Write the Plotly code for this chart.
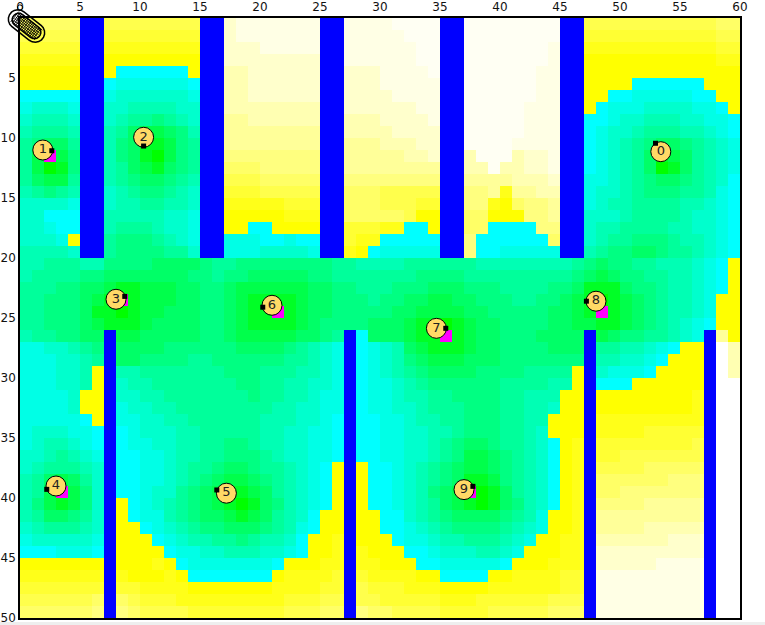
"""Wi-Fi coverage style grid: signal levels per cell, walls, numbered access points."""
import numpy as np
import plotly.graph_objects as go

N_COLS, N_ROWS = 60, 50

# one char per cell: 0..9 = green -> cyan, a..l = yellow -> white
LEVELS = "0123456789abcdefghijkl"
GRID_ROWS = [
    "eeeee ee dddddddd gg ijjjjjjj jj jjjjkkkk kk kkkkkkkk gg dddddddddddee",
    "ddddd dd cccccccc gg ijjjjjjj jj jjjjjkkk kk kkkkkkkk gg cccccccccccdd",
    "ccccc cc bbbbbbbb ff iiijjjjj jj jjjjjjkk kk kkkkkkkj gg bbbbbbbbbbbcc",
    "bbbbb bb aaaaaaaa ff iiiiiiii jj jjjjjjkk kk kkkkkkkj gg aaaaaaaaaaabb",
    "aaaaa aa a999999a ee hhiiiiii ii iiijjjjk kk kkkkkkjj gg aaaaaaaaaaaaa",
    "aaaaa aa 98888889 ee hhiiiiii ii iiijjjjj kk kkkkkkjj gg aaaa999999aaa",
    "99999 99 87777778 ee hhiiiiii ii iiiijjjj kk kkkkkkjj gg aa998888899aa",
    "87778 77 77666677 dd hhhhhhhh ii iiiiiijj jj kkkkkjjj gg a98887777889a",
    "76667 66 76554567 dd gghhhhhh hh hhhiiiij jj kkkkkjjj gg 9987766677889",
    "65556 55 65322346 cc gggggggg hh hhhhiiii jj kkkkkjjj gg 9877655566789",
    "54335 44 64311245 cc gggggggg gg ggghhhii jj kkkkjjjj gg 9876543345678",
    "52124 33 64310245 cc ffffffff gg ggggghhi hh hkkkhiij gg 9876531235678",
    "52014 33 65321345 cc eeefffff gg gggggggg hh hhkhhiij gg 9876530135678",
    "53225 44 65433456 cc dddeeeee ff ffffffff gg gggghhhi gg 8876543345679",
    "65456 55 76544567 cc cccddddd ee eeeddddd ff ffgbgghh gg 8776544455689",
    "77778 77 76655667 cc bbbbbccc dd eeedddcc ee ffbaeffg gg 8766555566789",
    "77999 77 66666778 bb aaaaabbb cc eeeeedaa bb eeaaaffg ff 7776555567789",
    "77899 77 65556778 bb aa99aaaa bb cccbb99a bb ee9999ff ff 7665555667789",
    "7778a 66 54445678 bb 88899899 aa cbb99999 bb f999999e ee 7655444566789",
    "66667 55 54444557 88 88877778 88 ba988888 88 f9988888 88 6544334556789",
    "6655566444 4333345544 4444445566 6655555566 6666665434 455666789a",
    "6555544333 3333445443 3333445555 5554444555 5555554323 445566789a",
    "5554433211 2223344322 2222334455 5444333444 5555443111 344566789a",
    "5544432101 2223344321 1112334445 4433223344 4554432101 23456678aa",
    "5544431101 2233344321 1012334444 4332222334 4444332101 23456678aa",
    "5544432111 2333344321 1112344443 3321101233 4444332211 23456789aa",
    "6554433222 3333344322 2223345593 3321101233 4443333323 44556789ga",
    "8877654433 3344444433 3345678398 7632111233 4444333455 66789aa9lh",
    "8887765433 4444554444 4455678498 7643222333 4444444466 7789aaa9lh",
    "888776a566 5555555444 5556678598 7654333344 445555a578 889aaaa9lh",
    "888776a576 6555555544 5566778598 8765444444 555566a599 9aaaaaa9ll",
    "88887aa577 6655555554 5566788598 8766554444 55666aa5aa aaaaaab9ll",
    "88887aa587 7665555555 5667788598 8776555444 55667aa5aa aaaaaab9ll",
    "888889a588 7766555555 6667789599 8876655444 5566aaa5bb bbbbbbb9ll",
    "8777889598 7776655555 6677889599 8877665444 5567aaa5bb bbccccc9ll",
    "8766789598 8776655445 6677889599 8877654334 55679ab5cc ccccccd9ll",
    "7765678599 8876655444 5677889599 8877654223 45679ab5cc ddddddd9ll",
    "7655567599 8876554334 556789a5a9 9876543223 45679ab5dd ddeeeee9ll",
    "6532357599 8876543223 456789a5a9 9876543112 45679ab5ee eeeefff9ll",
    "6521247599 8775432112 356789a5a9 9876432001 35679ab5ee fffffff9ll",
    "64212475a9 8765432101 346789a5a9 9876532101 34679ab5ff ffggggg9ll",
    "65334575a9 8865433212 35679aa5aa 9976543333 4568aab5gg ggggggg9ll",
    "76555675aa 9876544333 45689aa5aa 9987654444 5678aab5gg gghhhhh9ll",
    "87777785aa a987665545 6679aab5aa a988766555 678aabb5hh hhhhiii9ll",
    "99988895aa aa98877666 7789aab5ba aa99877766 78aaabb5ii iiiiiii9ll",
    "aaaaaaa5aa aba9888888 89aaabb5bb aaa9988888 9aaabbb5ii iiijjjj9ll",
    "bbbbbbb5ba aaba999999 9abbbbc5cb bbbaa9999a abbbbcc5jj jjjjjjj9ll",
    "ccccccc5cc bbbbaaaaaa abbbbcc5dc ccbbbaaaab bbbbbcc5jj jjjjjjj9ll",
    "dddddde5ed cccbbbbbbb bbcccdd5dd cccccbbbcc ccccddd5jj jjjjjjj9ll",
    "eeeeeef5fe ddddcccccc ccdddee5fe eddddccccd ddddeee5jj jjjjjjj9ll",
]

# walls: first column of each, rows spanned
TOP_WALL_COLS = [5, 15, 25, 35, 45]
TOP_WALL_WIDTH = 2
TOP_WALL_START, TOP_WALL_END = -1, 20
BOTTOM_WALL_COLS = [7, 27, 47, 57]
BOTTOM_WALL_WIDTH = 1
BOTTOM_WALL_START, BOTTOM_WALL_END = 26, 50.33

# access points
AP_LABELS = ["0", "1", "2", "3", "4", "5", "6", "7", "8", "9"]
AP_X = [53.4, 1.9, 10.3, 8.0, 3.0, 17.2, 21.0, 34.7, 48.0, 37.0]
AP_Y = [11.14, 11.0, 9.94, 23.44, 39.0, 39.6, 23.94, 25.86, 23.6, 39.3]
DOT_X = [52.96, 2.65, 10.3, 8.73, 2.23, 16.4, 20.23, 35.48, 47.2, 37.74]
DOT_Y = [10.44, 11.06, 10.67, 23.2, 39.28, 39.33, 24.1, 25.86, 23.6, 39.03]
# grid cells marked magenta (col, row)
MARK_COLS = [2, 8, 3, 21, 35, 48, 37]
MARK_ROWS = [11, 23, 39, 24, 26, 24, 39]

X_TICKS = list(range(0, 61, 5))
Y_TICKS = list(range(5, 51, 5))

_Z_MAX = len(LEVELS) - 1
_COLORSCALE = [[0.0, "#00FF00"], [2 / _Z_MAX, "#00FF4B"], [4 / _Z_MAX, "#00FF82"],
               [9 / _Z_MAX, "#00FFFF"], [10 / _Z_MAX, "#FFFF00"],
               [19 / _Z_MAX, "#FFFFE5"], [20 / _Z_MAX, "#FFFFF3"], [1.0, "#FFFFFF"]]
_FONT = "DejaVu Sans"
_L, _T, _PW, _PH = 20, 18, 720, 600


def _px(x, y):
    """Canvas pixels to paper fractions (the phone icon sits over the axis corner)."""
    return (x - _L) / _PW, 1 - (y - _T) / _PH


def _path(points, close=True):
    parts = []
    for i, (x, y) in enumerate(points):
        fx, fy = _px(x, y)
        parts.append(f"{'M' if i == 0 else 'L'}{fx:.5f},{fy:.5f}")
    return " ".join(parts) + (" Z" if close else "")


def _shape(points, close=True, width=1.0, fill=None):
    return dict(type="path", xref="paper", yref="paper", path=_path(points, close),
                line=dict(color="black", width=width), fillcolor=fill, layer="above")


def phone_icon(cx=26.5, cy=26, half_len=11, half_w=9.5, angle=38):
    """Hatched capsule handset with its little antenna loop."""
    a = np.deg2rad(angle)
    ux, uy = np.cos(a), np.sin(a)
    vx, vy = -uy, ux

    def at(s, t):
        return cx + s * ux + t * vx, cy + s * uy + t * vy

    def capsule(hl, hw):
        pts = [at(hl + hw * np.cos(p), hw * np.sin(p)) for p in np.linspace(-np.pi / 2, np.pi / 2, 10)]
        pts += [at(-hl + hw * np.cos(p), hw * np.sin(p)) for p in np.linspace(np.pi / 2, 3 * np.pi / 2, 10)]
        return pts

    shapes = [_shape(capsule(half_len, half_w), width=1.5), _shape(capsule(half_len - 1, half_w - 3), width=1.5)]
    for s in np.arange(-half_len - 4, half_len + 4, 2.0):
        shapes.append(_shape([at(s, -half_w + 3), at(s, half_w - 3)], close=False, width=0.9))
    for t in np.arange(-half_w + 3, half_w - 2, 2.0):
        shapes.append(_shape([at(-half_len - 3, t), at(half_len + 4, t)], close=False, width=0.9))
    loop = [(20 + 2.6 * np.cos(p), 7.5 + 2.6 * np.sin(p)) for p in np.linspace(0, 2 * np.pi, 12)]
    shapes.append(_shape(loop, width=1.0))
    return shapes


rows = [r.replace(" ", "") for r in GRID_ROWS]
assert len(rows) == N_ROWS and all(len(r) == N_COLS for r in rows)
z = [[LEVELS.index(c) for c in r] for r in rows]

fig = go.Figure()
fig.add_trace(go.Heatmap(z=z, x0=0.5, dx=1, y0=0.5, dy=1, colorscale=_COLORSCALE,
                         zmin=0, zmax=_Z_MAX, showscale=False, hoverinfo="skip"))
fig.add_trace(go.Bar(x=[c + TOP_WALL_WIDTH / 2 for c in TOP_WALL_COLS],
                     y=[TOP_WALL_END - TOP_WALL_START] * len(TOP_WALL_COLS),
                     base=TOP_WALL_START, width=TOP_WALL_WIDTH, cliponaxis=False,
                     marker=dict(color="#0000FF", line=dict(width=0)), showlegend=False))
fig.add_trace(go.Bar(x=[c + BOTTOM_WALL_WIDTH / 2 for c in BOTTOM_WALL_COLS],
                     y=[BOTTOM_WALL_END - BOTTOM_WALL_START] * len(BOTTOM_WALL_COLS),
                     base=BOTTOM_WALL_START, width=BOTTOM_WALL_WIDTH, cliponaxis=False,
                     marker=dict(color="#0000FF", line=dict(width=0)), showlegend=False))
fig.add_trace(go.Scatter(x=[c + 0.5 for c in MARK_COLS], y=[r + 0.5 for r in MARK_ROWS], mode="markers",
                         marker=dict(symbol="square", size=12, color="#FF00FF", line=dict(width=0)),
                         showlegend=False))
fig.add_trace(go.Scatter(x=AP_X, y=AP_Y, mode="markers+text", text=AP_LABELS, textposition="middle center",
                         textfont=dict(family=_FONT, size=13, color="#222222"),
                         marker=dict(size=20, color="#FFD966", line=dict(color="black", width=1)),
                         showlegend=False))
fig.add_trace(go.Scatter(x=DOT_X, y=DOT_Y, mode="markers",
                         marker=dict(symbol="square", size=5, color="black", line=dict(width=0)),
                         showlegend=False))

fig.update_xaxes(side="top", range=[0, N_COLS], tickmode="array", tickvals=X_TICKS, ticks="",
                 showgrid=False, zeroline=False, showline=True, linecolor="black", linewidth=1.5,
                 mirror=True, layer="below traces", automargin=False, ticklabeloverflow="allow")
fig.update_yaxes(range=[N_ROWS, 0], tickmode="array", tickvals=Y_TICKS, ticks="",
                 showgrid=False, zeroline=False, showline=True, linecolor="black", linewidth=1.5,
                 mirror=True, layer="below traces", automargin=False, ticklabeloverflow="allow")

# light strip of the window below the canvas
x0, y0 = _px(0, 622)
x1, y1 = _px(765, 625)
strip = dict(type="rect", xref="paper", yref="paper", x0=x0, y0=y0, x1=x1, y1=y1,
             fillcolor="#EEEEEE", line=dict(width=0), layer="above")

fig.update_layout(width=765, height=625, margin=dict(l=_L, r=765 - _L - _PW, t=_T, b=625 - _T - _PH),
                  paper_bgcolor="white", plot_bgcolor="white", barmode="overlay", showlegend=False,
                  font=dict(family=_FONT, size=12, color="#111111"), shapes=phone_icon() + [strip])

fig.write_html("out.html", config=dict(displayModeBar=False),
               post_script="document.body.style.margin='0';")
